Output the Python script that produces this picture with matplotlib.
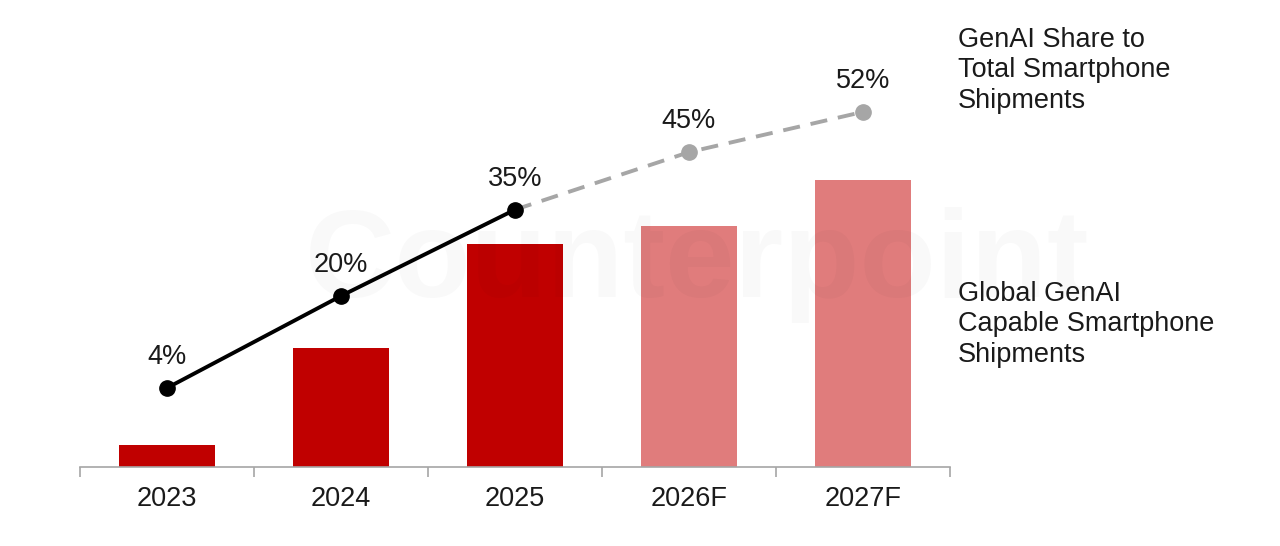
import numpy as np
import matplotlib
matplotlib.use("Agg")
import matplotlib.pyplot as plt

plt.rcParams["font.family"] = ["Liberation Sans", "DejaVu Sans"]

# ======================
# Data
# ======================

years = ["2023", "2024", "2025", "2026F", "2027F"]
shipments = [46, 250, 470, 507, 604]          # GenAI capable shipments (M, estimated)
share = [4, 20, 35, 45, 52]                   # share of total smartphone shipments (%)
share_labels = ["4%", "20%", "35%", "45%", "52%"]
n_actual = 3                                  # 2023-2025 actual, rest forecast

dark_red = "#C00000"
light_red = "#E07C7C"
grey_line = "#A6A6A6"

# ======================
# Figure
# ======================

fig = plt.figure(figsize=(12.8, 5.46), dpi=100)
ax = fig.add_axes([80 / 1280, 79 / 546, 870 / 1280, 427 / 546])

x = np.arange(len(years))
bar_colors = [dark_red if i < n_actual else light_red for i in range(len(years))]

# faint watermark
fig.text(0.545, 0.515, "Counterpoint", fontsize=90, fontweight="bold",
         color="#000000", alpha=0.022, ha="center", va="center", zorder=0)

ax.bar(x, shipments, width=0.55, color=bar_colors, zorder=2)

ax.set_xlim(-0.5, len(years) - 0.5)
ax.set_ylim(0, 899)
ax.set_yticks([])
for s in ["top", "right", "left"]:
    ax.spines[s].set_visible(False)
ax.spines["bottom"].set_color("#A6A6A6")
ax.spines["bottom"].set_linewidth(1.2)

ax.set_xticks(x)
ax.set_xticklabels(years, fontsize=19.5, color="#1a1a1a")
ax.tick_params(axis="x", length=0, pad=14)
ax.set_xticks(np.arange(-0.5, len(years)), minor=True)
ax.tick_params(axis="x", which="minor", length=7, color="#A6A6A6", width=1.2)
ax.patch.set_alpha(0)

# ======================
# Share line
# ======================

ax2 = ax.twinx()
ax2.set_ylim(-9.74, 64.5)
ax2.axis("off")

ax2.plot(x[n_actual - 1:], share[n_actual - 1:], color=grey_line, lw=2.8,
         dashes=(4.4, 2.8), zorder=3)
ax2.plot(x[n_actual:], share[n_actual:], "o", color=grey_line, ms=11, zorder=4)
ax2.plot(x[:n_actual], share[:n_actual], "-o", color="black", lw=2.8, ms=11,
         zorder=5)

for xi, yi, lab in zip(x, share, share_labels):
    ax2.annotate(lab, (xi, yi), xytext=(0, 13), textcoords="offset points",
                 ha="center", va="bottom", fontsize=19.5, color="#1a1a1a")

# ======================
# Side labels
# ======================

fig.text(958 / 1280, 1 - 27 / 546, "GenAI Share to\nTotal Smartphone\nShipments",
         ha="left", va="top", fontsize=19.5, linespacing=1.22, color="#1a1a1a")
fig.text(958 / 1280, 1 - 281 / 546, "Global GenAI\nCapable Smartphone\nShipments",
         ha="left", va="top", fontsize=19.5, linespacing=1.22, color="#1a1a1a")

fig.savefig("out.png", dpi=100, facecolor="white")
